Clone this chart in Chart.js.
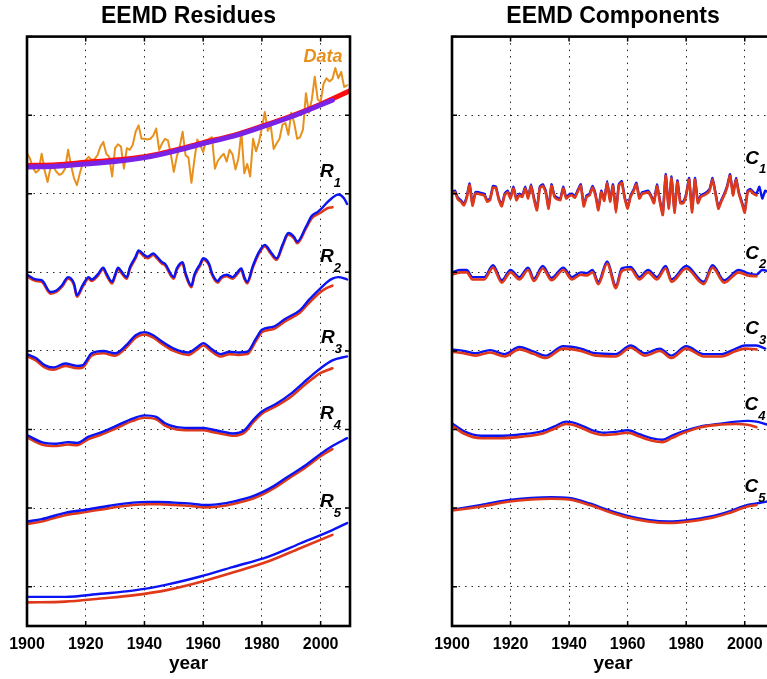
<!DOCTYPE html>
<html>
<head>
<meta charset="utf-8">
<script src="https://cdn.jsdelivr.net/npm/chart.js@4.4.1/dist/chart.umd.min.js"></script>
<style>
  html, body { margin: 0; padding: 0; background: #fff; overflow: hidden; width: 767px; height: 679px; }
  canvas { position: absolute; top: 0; }
  #residues { left: 0; }
  #components { left: 400px; }
</style>
</head>
<body>
<canvas id="residues" width="383" height="679"></canvas>
<canvas id="components" width="400" height="679"></canvas>
<script>
// ---- axis ticks ----
const xTickValues = [1900, 1920, 1940, 1960, 1980, 2000];
const yTickValues = [0, 1, 2, 3, 4, 5, 6, 7];

// ---- annual temperature record (plotted, offset units) ----
const dataYears = Array.from({ length: 110 }, (_, i) => 1900 + i);
const dataValues = [
  5.52, 5.45, 5.33, 5.27, 5.30, 5.51, 5.30, 5.15, 5.33, 5.34,
  5.28, 5.24, 5.26, 5.32, 5.56, 5.36, 5.20, 5.11, 5.26, 5.39,
  5.43, 5.47, 5.43, 5.44, 5.49, 5.60, 5.66, 5.51, 5.47, 5.22,
  5.58, 5.63, 5.60, 5.32, 5.58, 5.56, 5.62, 5.79, 5.87, 5.70,
  5.70, 5.69, 5.70, 5.74, 5.83, 5.56, 5.64, 5.70, 5.68, 5.50,
  5.28, 5.47, 5.60, 5.79, 5.49, 5.46, 5.14, 5.43, 5.69, 5.62,
  5.53, 5.68, 5.70, 5.72, 5.32, 5.42, 5.47, 5.51, 5.41, 5.56,
  5.50, 5.31, 5.45, 5.79, 5.26, 5.38, 5.22, 5.70, 5.54, 5.66,
  5.84, 6.04, 5.80, 5.87, 5.57, 5.64, 5.70, 5.88, 5.90, 5.75,
  6.03, 5.90, 5.70, 5.72, 5.82, 6.28, 6.03, 6.20, 6.49, 6.20,
  6.17, 6.40, 6.47, 6.43, 6.46, 6.60, 6.47, 6.55, 6.36, 6.38
];

// ---- long-term trends over the record ----
const trendYears = [1900, 1910, 1920, 1930, 1940, 1950, 1960, 1970, 1980, 1990, 2000, 2010];
const trendRed = [5.36, 5.37, 5.40, 5.43, 5.47, 5.55, 5.65, 5.74, 5.86, 5.99, 6.14, 6.31];
const trendPurpleYears = [1900, 1910, 1920, 1930, 1940, 1950, 1960, 1970, 1980, 1990, 2000, 2004];
const trendPurple = [5.34, 5.35, 5.38, 5.41, 5.46, 5.54, 5.64, 5.73, 5.85, 5.98, 6.13, 6.19];

// ---- residues (blue: full record, red: record to 2004) ----
const r1Years = [1900,1903,1905,1908,1910,1912,1914,1916,1917,1919,1921,1922,1924,1926,1927,1929,1930,1931,1932,1934,1935,1937,1938,1940,1941,1943,1944,1946,1947,1950,1951,1953,1954,1956,1957,1959,1960,1962,1963,1965,1966,1968,1970,1971,1973,1974,1975,1977,1979,1981,1983,1985,1987,1989,1991,1992,1995,1997,1999,2000,2002,2004,2006,2008,2009];
const r1Blue = [3.97,3.91,3.90,3.75,3.77,3.84,3.94,3.86,3.71,3.84,3.94,3.91,3.97,4.06,3.99,3.88,3.97,4.06,4.02,3.94,4.06,4.20,4.28,4.22,4.20,4.24,4.21,4.13,4.11,3.94,4.05,4.13,3.99,3.83,3.97,4.11,4.18,4.11,3.99,3.89,3.94,3.97,3.94,3.97,4.05,3.94,3.88,4.09,4.26,4.35,4.26,4.18,4.35,4.50,4.45,4.39,4.58,4.72,4.77,4.80,4.88,4.95,4.99,4.94,4.87];
const r1Red = [3.95,3.89,3.88,3.73,3.75,3.82,3.92,3.84,3.69,3.82,3.92,3.89,3.95,4.04,3.97,3.86,3.95,4.04,4.00,3.92,4.04,4.18,4.26,4.20,4.18,4.22,4.19,4.11,4.09,3.92,4.03,4.11,3.97,3.81,3.95,4.09,4.16,4.09,3.97,3.87,3.92,3.95,3.92,3.95,4.03,3.92,3.86,4.07,4.24,4.33,4.24,4.16,4.33,4.48,4.43,4.37,4.56,4.69,4.74,4.76,4.81,4.83];

const r2Years = [1900,1903,1906,1909,1913,1917,1919,1922,1926,1930,1934,1937,1940,1943,1946,1950,1953,1955,1958,1960,1963,1966,1969,1972,1975,1978,1980,1984,1988,1993,1996,2000,2002,2004,2006,2009];
const r2Blue = [2.96,2.91,2.82,2.79,2.84,2.81,2.82,2.97,3.00,2.97,3.08,3.20,3.24,3.20,3.12,3.03,2.99,2.98,3.05,3.10,3.02,2.96,2.99,2.98,2.99,3.16,3.27,3.31,3.41,3.52,3.65,3.80,3.87,3.92,3.94,3.91];
const r2Red = [2.93,2.88,2.79,2.76,2.81,2.78,2.79,2.94,2.97,2.94,3.05,3.17,3.21,3.17,3.09,3.00,2.96,2.95,3.02,3.07,2.99,2.93,2.96,2.95,2.96,3.13,3.24,3.28,3.38,3.49,3.61,3.75,3.80,3.83];

const r3Years = [1900,1905,1910,1914,1917,1921,1925,1930,1936,1940,1944,1947,1951,1955,1960,1963,1967,1970,1974,1977,1980,1985,1990,1994,1997,2000,2004,2009];
const r3Blue = [1.93,1.84,1.82,1.84,1.83,1.91,1.96,2.04,2.14,2.18,2.16,2.08,2.03,2.02,2.02,2.00,1.97,1.95,1.99,2.12,2.23,2.33,2.46,2.59,2.69,2.78,2.88,2.93];
const r3Red = [1.90,1.81,1.79,1.81,1.80,1.88,1.93,2.01,2.11,2.15,2.13,2.05,2.00,1.99,1.99,1.97,1.94,1.92,1.96,2.09,2.20,2.30,2.42,2.55,2.64,2.72,2.78];

const r4Years = [1900,1905,1913,1920,1928,1936,1941,1945,1950,1955,1961,1967,1972,1976,1980,1984,1988,1995,2000,2004,2009];
const r4Blue = [0.83,0.86,0.94,0.98,1.03,1.07,1.08,1.08,1.07,1.06,1.04,1.06,1.10,1.14,1.20,1.28,1.38,1.55,1.69,1.79,1.89];
const r4Red = [0.80,0.83,0.91,0.95,1.00,1.04,1.05,1.05,1.04,1.03,1.01,1.03,1.07,1.11,1.17,1.25,1.35,1.52,1.66,1.75];

const r5Years = [1900,1913,1925,1936,1948,1959,1970,1982,1993,2004,2009];
const r5Blue = [-0.13,-0.13,-0.09,-0.05,0.03,0.13,0.25,0.38,0.55,0.72,0.81];
const r5Red = [-0.20,-0.19,-0.15,-0.11,-0.04,0.06,0.18,0.32,0.49,0.66];

// ---- components ----
const c1Years = dataYears;
const c1Blue = [
  5.02, 5.04, 4.95, 4.92, 4.87, 4.96, 5.13, 4.87, 5.02, 5.02,
  5.01, 5.00, 4.92, 4.94, 5.10, 5.09, 4.94, 4.86, 5.00, 5.04,
  4.96, 5.09, 4.94, 5.00, 4.98, 5.09, 4.96, 5.12, 4.95, 4.81,
  5.09, 5.12, 5.04, 4.83, 5.12, 4.98, 4.95, 4.94, 5.09, 4.96,
  4.99, 5.00, 4.97, 5.05, 5.12, 4.86, 4.98, 5.00, 5.10, 5.00,
  4.81, 5.04, 4.93, 5.16, 4.92, 5.12, 4.78, 5.12, 5.16, 4.96,
  4.83, 4.98, 5.05, 5.14, 4.96, 5.02, 5.03, 5.04, 4.98, 4.90,
  5.12, 4.92, 4.75, 5.25, 4.83, 5.22, 4.78, 5.17, 4.90, 4.90,
  5.00, 5.20, 4.78, 5.20, 4.90, 4.98, 5.00, 5.02, 5.06, 5.20,
  5.02, 4.83, 4.92, 5.00, 5.10, 5.25, 5.00, 5.20, 5.02, 4.90,
  4.78, 5.04, 5.06, 5.02, 5.00, 5.09, 4.94, 5.04, 5.02, 5.05
];
const c1Red = [
  5.00, 5.02, 4.93, 4.90, 4.85, 4.94, 5.11, 4.85, 5.00, 5.00,
  4.99, 4.98, 4.90, 4.92, 5.08, 5.07, 4.92, 4.84, 4.98, 5.02,
  4.94, 5.07, 4.92, 4.98, 4.96, 5.07, 4.94, 5.10, 4.93, 4.79,
  5.07, 5.10, 5.02, 4.81, 5.10, 4.96, 4.93, 4.92, 5.07, 4.94,
  4.97, 4.98, 4.95, 5.03, 5.10, 4.84, 4.96, 4.98, 5.08, 4.98,
  4.79, 5.02, 4.91, 5.14, 4.90, 5.10, 4.76, 5.10, 5.14, 4.94,
  4.81, 4.96, 5.03, 5.12, 4.94, 5.00, 5.01, 5.02, 4.96, 4.88,
  5.10, 4.90, 4.73, 5.23, 4.81, 5.20, 4.76, 5.15, 4.88, 4.88,
  4.98, 5.18, 4.76, 5.18, 4.88, 4.96, 4.98, 5.00, 5.04, 5.18,
  5.00, 4.81, 4.90, 4.98, 5.08, 5.23, 4.98, 5.18, 5.00, 4.88,
  4.76, 5.02, 5.04, 5.00, 4.98
];

const c2Years = [1900,1903,1905,1907,1911,1914,1917,1920,1923,1926,1928,1931,1934,1938,1941,1944,1946,1948,1950,1953,1956,1958,1961,1964,1967,1970,1973,1975,1980,1986,1989,1993,1998,2001,2004,2006,2009];
const c2Blue = [4.00,4.03,4.03,3.94,3.94,4.09,3.90,4.03,3.94,4.06,3.92,4.08,3.93,4.06,3.94,4.00,3.99,4.03,3.88,4.14,3.83,4.05,4.07,3.94,4.03,3.94,4.08,3.91,4.08,3.88,4.09,3.90,4.03,3.99,3.97,4.03,4.00];
const c2Red = [3.97,4.00,4.00,3.91,3.91,4.06,3.87,4.00,3.91,4.03,3.89,4.05,3.90,4.03,3.91,3.97,3.96,4.00,3.85,4.11,3.80,4.02,4.04,3.91,4.00,3.91,4.05,3.88,4.05,3.85,4.06,3.87,4.00,3.96,3.95];

const c3Years = [1900,1904,1908,1913,1918,1923,1928,1932,1938,1944,1949,1956,1961,1966,1971,1975,1980,1986,1992,1997,2000,2004,2007];
const c3Blue = [3.02,3.00,2.97,3.01,2.96,3.05,2.99,2.94,3.06,3.03,2.97,2.96,3.07,2.97,3.03,2.94,3.06,2.96,2.96,3.03,3.07,3.07,3.03];
const c3Red = [2.99,2.97,2.94,2.98,2.93,3.02,2.96,2.91,3.03,3.00,2.94,2.93,3.04,2.94,3.00,2.91,3.03,2.93,2.93,3.00,3.03,3.02];

const c4Years = [1900,1904,1910,1916,1924,1931,1935,1939,1943,1948,1952,1956,1960,1964,1968,1972,1975,1980,1985,1991,1997,2001,2004,2007,2010];
const c4Blue = [2.08,1.98,1.92,1.92,1.94,1.98,2.04,2.10,2.07,1.99,1.96,1.97,1.99,1.94,1.89,1.87,1.92,1.99,2.04,2.07,2.10,2.11,2.10,2.07,2.04];
const c4Red = [2.05,1.95,1.89,1.89,1.91,1.95,2.01,2.07,2.04,1.96,1.93,1.94,1.96,1.91,1.86,1.84,1.89,1.97,2.03,2.06,2.07,2.06,2.03];

const c5Years = [1900,1910,1919,1927,1934,1940,1947,1953,1960,1967,1974,1981,1988,1994,2001,2004,2007,2010];
const c5Blue = [0.98,1.04,1.10,1.13,1.14,1.13,1.06,0.98,0.90,0.85,0.83,0.85,0.89,0.95,1.04,1.06,1.08,1.10];
const c5Red = [0.97,1.02,1.08,1.11,1.12,1.11,1.04,0.96,0.88,0.83,0.81,0.83,0.87,0.93,1.02,1.04];

// ---- curve labels: [main letter, subscript, year, value] ----
const residueLabels = [['R','1',2002.1,5.30],['R','2',2002.1,4.22],['R','3',2002.5,3.19],['R','4',2002.1,2.22],['R','5',2002.1,1.10]];
const componentLabels = [['C','1',2002.5,5.47],['C','2',2002.5,4.26],['C','3',2002.5,3.30],['C','4',2002.3,2.33],['C','5',2002.3,1.29]];
const dataLabel = ['Data', 2000.8, 6.76];

// ---- styling ----
const FONT = '"Liberation Sans", Arial, Helvetica, sans-serif';
const BLUE = '#0a14f2';
const RED = '#e0391a';
const ORANGE = '#e8901c';
const TREND_RED = '#ff0d0d';
const PURPLE = '#7a22e6';

function series(xs, ys, color, width, order, smooth) {
  const ds = {
    data: ys.map((v, i) => ({ x: xs[i], y: v })),
    borderColor: color,
    borderWidth: width,
    pointRadius: 0,
    pointHoverRadius: 0,
    fill: false,
    order: order,
    borderCapStyle: 'round',
    borderJoinStyle: 'round'
  };
  if (smooth === 'monotone') ds.cubicInterpolationMode = 'monotone';
  else ds.tension = smooth;
  return ds;
}

// box frame and inward tick marks on all four sides
const framePlugin = {
  id: 'frame',
  afterDatasetsDraw(chart) {
    const { ctx, chartArea: a, scales: { x, y } } = chart;
    ctx.save();
    ctx.strokeStyle = '#000';
    ctx.lineWidth = 1.5;
    ctx.beginPath();
    x.ticks.forEach(t => {
      const px = x.getPixelForValue(t.value);
      ctx.moveTo(px, a.bottom); ctx.lineTo(px, a.bottom - 5);
      ctx.moveTo(px, a.top); ctx.lineTo(px, a.top + 5);
    });
    y.ticks.forEach(t => {
      const py = y.getPixelForValue(t.value);
      ctx.moveTo(a.left, py); ctx.lineTo(a.left + 5, py);
      ctx.moveTo(a.right, py); ctx.lineTo(a.right - 5, py);
    });
    ctx.stroke();
    ctx.lineWidth = 2.6;
    ctx.strokeRect(a.left, a.top, a.right - a.left, a.bottom - a.top);
    ctx.restore();
  }
};

// italic curve names with subscripts, placed in data coordinates
const labelPlugin = {
  id: 'curveLabels',
  afterDraw(chart, args, opts) {
    const { ctx, scales: { x, y } } = chart;
    ctx.save();
    ctx.textAlign = 'center';
    ctx.textBaseline = 'alphabetic';
    (opts.items || []).forEach(([main, sub, yr, val]) => {
      const px = x.getPixelForValue(yr), py = y.getPixelForValue(val);
      ctx.fillStyle = '#000';
      ctx.font = 'italic bold 19px ' + FONT;
      ctx.fillText(main, px, py + 6.8);
      ctx.font = 'italic bold 13px ' + FONT;
      ctx.fillText(sub, px + 10.5, py + 16.5);
    });
    if (opts.data) {
      const [txt, yr, val] = opts.data;
      ctx.fillStyle = ORANGE;
      ctx.font = 'italic bold 18px ' + FONT;
      ctx.fillText(txt, x.getPixelForValue(yr), y.getPixelForValue(val) + 6.5);
    }
    ctx.restore();
  }
};

function panelOptions(title, padLeft, padRight, labels) {
  const gridColor = 'rgba(0,0,0,0.85)';
  return {
    responsive: false,
    animation: false,
    devicePixelRatio: 1,
    layout: { padding: { left: padLeft, right: padRight, top: 0, bottom: 0 } },
    plugins: {
      legend: { display: false },
      tooltip: { enabled: false },
      title: {
        display: true, text: title, color: '#000',
        font: { family: FONT, size: 23, weight: 'bold' },
        padding: { top: 3, bottom: 6 }
      },
      curveLabels: labels
    },
    scales: {
      x: {
        type: 'linear', min: 1900, max: 2010,
        afterBuildTicks: s => { s.ticks = xTickValues.map(v => ({ value: v })); },
        afterFit: s => { s.height = 53; },
        grid: { color: gridColor, lineWidth: 1, drawTicks: false },
        border: { display: false, dash: [1.5, 5] },
        ticks: {
          color: '#000', font: { family: FONT, size: 16, weight: 'bold' }, padding: 9,
          maxRotation: 0, autoSkip: false, callback: v => String(v)
        },
        title: { display: true, text: 'year', color: '#000', font: { family: FONT, size: 19, weight: 'bold' }, padding: { top: 0, bottom: 4 } }
      },
      y: {
        type: 'linear', min: -0.5, max: 7,
        afterBuildTicks: s => { s.ticks = yTickValues.map(v => ({ value: v })); },
        afterFit: s => { s.width = 0; },
        grid: { color: gridColor, lineWidth: 1, drawTicks: false },
        border: { display: false, dash: [1.5, 5] },
        ticks: { display: false }
      }
    }
  };
}

new Chart(document.getElementById('residues'), {
  type: 'line',
  data: {
    datasets: [
      series(dataYears, dataValues, ORANGE, 2, 6, 0),
      series(trendYears, trendRed, TREND_RED, 5, 5, 'monotone'),
      series(trendPurpleYears, trendPurple, PURPLE, 5, 4, 'monotone'),
      series(r1Years, r1Red, RED, 2.6, 3, 'monotone'),
      series(r1Years, r1Blue, BLUE, 2.4, 2, 'monotone'),
      series(r2Years, r2Red, RED, 2.6, 3, 'monotone'),
      series(r2Years, r2Blue, BLUE, 2.4, 2, 'monotone'),
      series(r3Years, r3Red, RED, 2.6, 3, 'monotone'),
      series(r3Years, r3Blue, BLUE, 2.4, 2, 'monotone'),
      series(r4Years, r4Red, RED, 2.6, 3, 'monotone'),
      series(r4Years, r4Blue, BLUE, 2.4, 2, 'monotone'),
      series(r5Years, r5Red, RED, 2.6, 3, 'monotone'),
      series(r5Years, r5Blue, BLUE, 2.4, 2, 'monotone')
    ]
  },
  options: panelOptions('EEMD Residues', 27, 33, { items: residueLabels, data: dataLabel }),
  plugins: [framePlugin, labelPlugin]
});

new Chart(document.getElementById('components'), {
  type: 'line',
  data: {
    datasets: [
      series(c1Years, c1Blue, BLUE, 2.4, 3, 0.15),
      series(c1Years, c1Red, RED, 2.6, 2, 0.15),
      series(c2Years, c2Blue, BLUE, 2.4, 3, 'monotone'),
      series(c2Years, c2Red, RED, 2.6, 2, 'monotone'),
      series(c3Years, c3Blue, BLUE, 2.4, 3, 'monotone'),
      series(c3Years, c3Red, RED, 2.6, 2, 'monotone'),
      series(c4Years, c4Blue, BLUE, 2.4, 3, 'monotone'),
      series(c4Years, c4Red, RED, 2.6, 2, 'monotone'),
      series(c5Years, c5Blue, BLUE, 2.4, 3, 'monotone'),
      series(c5Years, c5Red, RED, 2.6, 2, 'monotone')
    ]
  },
  options: panelOptions('EEMD Components', 52, 26, { items: componentLabels }),
  plugins: [framePlugin, labelPlugin]
});
</script>
</body>
</html>
